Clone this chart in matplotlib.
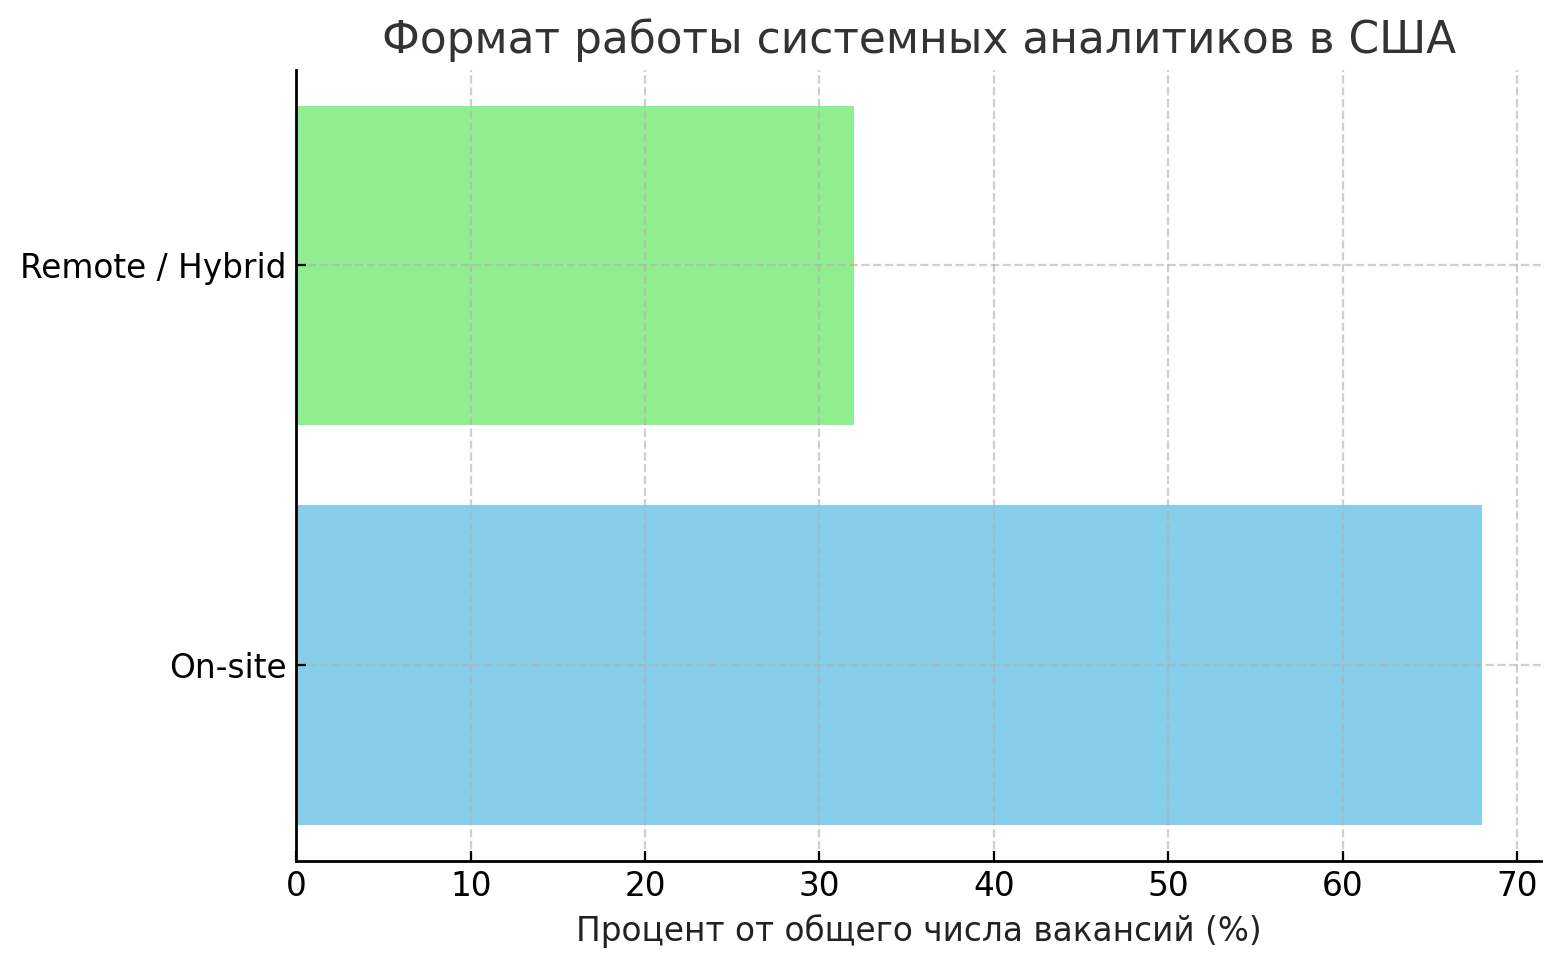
import matplotlib
matplotlib.use("Agg")
import matplotlib.pyplot as plt

categories = ["On-site", "Remote / Hybrid"]
values = [68, 32]
colors = ["skyblue", "lightgreen"]

plt.rcParams['font.family'] = ['DejaVu Sans']
fig, ax = plt.subplots(figsize=(7.8, 4.835), dpi=200)
ax.barh(categories, values, color=colors)
ax.set_title("Формат работы системных аналитиков в США", fontsize=15.8, color="#333333")
ax.set_xlabel("Процент от общего числа вакансий (%)", fontsize=11.8, color="#222222")
ax.tick_params(axis='both', labelsize=11.8, direction='in')
ax.grid(True, linestyle='--', alpha=0.6)
for s in ('left', 'bottom'):
    ax.spines[s].set_linewidth(1.0)
ax.spines['top'].set_visible(False)
ax.spines['right'].set_visible(False)
fig.subplots_adjust(left=0.19, right=0.988, top=0.928, bottom=0.11)
fig.savefig("out.png")
